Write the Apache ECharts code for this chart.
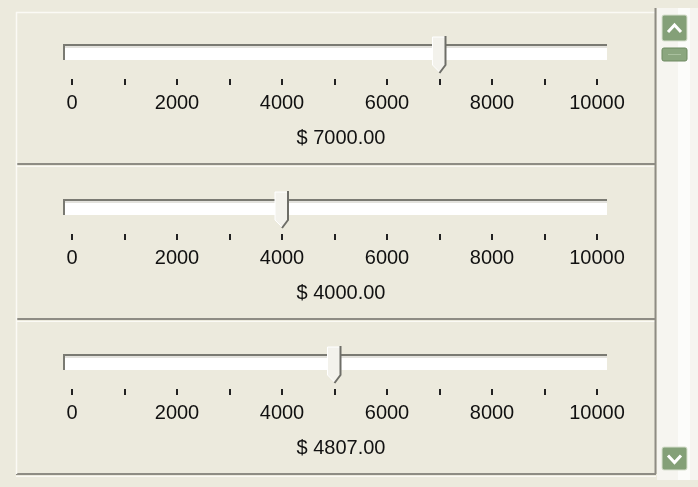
<!DOCTYPE html>
<html><head><meta charset="utf-8">
<script src="https://cdn.jsdelivr.net/npm/echarts@6/dist/echarts.min.js"></script>
<style>html,body{margin:0;padding:0;background:#ECEADD}#c{width:698px;height:487px}</style>
</head><body><div id="c"></div>
<script>
// ---- data ----
var axisMin = 0;
var axisMax = 10000;
var tickStep = 1000;
var tickLabels = ['0', '2000', '4000', '6000', '8000', '10000'];
var sliderPositions = [7000, 4000, 5000];
var amounts = [7000, 4000, 4807];

// ---- layout ----
var PANEL_H = 155;
var FONT = '"Liberation Sans", Arial, sans-serif';
var chart = echarts.init(document.getElementById('c'), null, {renderer: 'canvas'});

var grids = [], xAxes = [], yAxes = [], series = [], graphics = [];

function renderSlider(params, api) {
  var p0 = api.coord([axisMin, 1]);
  var p1 = api.coord([axisMax, 1]);
  var pt = api.coord([api.value(0), 1]);
  var top = p0[1];
  var x0 = p0[0] - 9, x1 = p1[0] + 10;
  var cx = pt[0];
  var children = [
    {type: 'rect', shape: {x: x0, y: top + 1, width: x1 - x0, height: 16}, style: {fill: '#FFFFFF'}},
    {type: 'line', shape: {x1: x0, y1: top + 2, x2: x1, y2: top + 2}, style: {stroke: '#7A7A72', lineWidth: 2}},
    {type: 'line', shape: {x1: x0, y1: top + 4, x2: x1, y2: top + 4}, style: {stroke: '#C8C6BC', lineWidth: 1}},
    {type: 'line', shape: {x1: x0 + 1, y1: top + 1, x2: x0 + 1, y2: top + 17}, style: {stroke: '#7A7A72', lineWidth: 2}},
    // thumb
    {type: 'polygon', shape: {points: [[cx - 7, top - 6], [cx + 6, top - 6], [cx + 6, top + 22], [cx, top + 29], [cx - 7, top + 22]]},
      style: {fill: '#F3F2EC', stroke: '#FFFFFF', lineWidth: 1}},
    {type: 'polyline', shape: {points: [[cx + 6, top - 7], [cx + 6, top + 22], [cx, top + 30]]},
      style: {stroke: '#6E6E68', lineWidth: 2, fill: null}}
  ];
  return {type: 'group', children: children};
}

for (var i = 0; i < sliderPositions.length; i++) {
  var off = PANEL_H * i;
  grids.push({left: 72, right: 101, top: 43 + off, height: 36});
  xAxes.push({
    gridIndex: i, type: 'value', min: axisMin, max: axisMax, interval: tickStep,
    axisLine: {show: false},
    axisTick: {show: true, length: 6, lineStyle: {color: '#222', width: 2}},
    splitLine: {show: false},
    axisLabel: {
      margin: 14, fontSize: 20, fontFamily: FONT, color: '#111',
      formatter: function (v) {
        var idx = tickLabels.indexOf(String(v));
        return idx >= 0 ? tickLabels[idx] : '';
      }
    }
  });
  yAxes.push({gridIndex: i, type: 'value', min: 0, max: 1, show: false});
  series.push({
    type: 'custom', xAxisIndex: i, yAxisIndex: i, clip: false,
    data: [[sliderPositions[i], 1]],
    renderItem: renderSlider, silent: true
  });
  graphics.push({
    type: 'text', x: 341, y: 138 + off,
    style: {text: '$ ' + amounts[i].toFixed(2), font: '20px ' + FONT, fill: '#111', align: 'center', verticalAlign: 'middle'}
  });
  // panel separators
  graphics.push({type: 'line', shape: {x1: 16, y1: 164 + off, x2: 656, y2: 164 + off}, style: {stroke: '#8E8C84', lineWidth: 2}});
  graphics.push({type: 'line', shape: {x1: 16, y1: 166.5 + off, x2: 656, y2: 166.5 + off}, style: {stroke: '#FBFAF5', lineWidth: 1}});
}
// outer frame
graphics.push({type: 'line', shape: {x1: 16, y1: 12.5, x2: 656, y2: 12.5}, style: {stroke: '#FBFAF5', lineWidth: 1.5}});
graphics.push({type: 'line', shape: {x1: 16.5, y1: 12, x2: 16.5, y2: 474}, style: {stroke: '#FBFAF5', lineWidth: 1.5}});
graphics.push({type: 'line', shape: {x1: 655.5, y1: 8, x2: 655.5, y2: 474}, style: {stroke: '#8E8C84', lineWidth: 2}});
// scrollbar
graphics.push({type: 'rect', shape: {x: 657, y: 8, width: 41, height: 472}, style: {fill: '#F6F5F0'}});
graphics.push({type: 'rect', shape: {x: 678, y: 8, width: 12, height: 472}, style: {fill: '#FCFCFA'}});
function btn(y, h, up) {
  graphics.push({type: 'rect', shape: {x: 662, y: y, width: 25, height: h, r: 2}, style: {fill: '#84A078', stroke: '#D8E0CF', lineWidth: 1}});
  var cy = y + h / 2;
  var pts = up ? [[668, cy + 4], [674.5, cy - 3], [681, cy + 4]] : [[668, cy - 3], [674.5, cy + 4], [681, cy - 3]];
  graphics.push({type: 'polyline', shape: {points: pts}, style: {stroke: '#FFFFFF', lineWidth: 3, fill: null}});
}
btn(15, 26, true);
btn(447, 23, false);
graphics.push({type: 'rect', shape: {x: 662, y: 48, width: 25, height: 13, r: 2}, style: {fill: '#8BA67F', stroke: '#6E8A62', lineWidth: 1}});
graphics.push({type: 'line', shape: {x1: 668, y1: 54.5, x2: 681, y2: 54.5}, style: {stroke: '#A9C09E', lineWidth: 1}});

chart.setOption({
  backgroundColor: '#ECEADD',
  animation: false,
  grid: grids, xAxis: xAxes, yAxis: yAxes, series: series,
  graphic: graphics
});
</script></body></html>
